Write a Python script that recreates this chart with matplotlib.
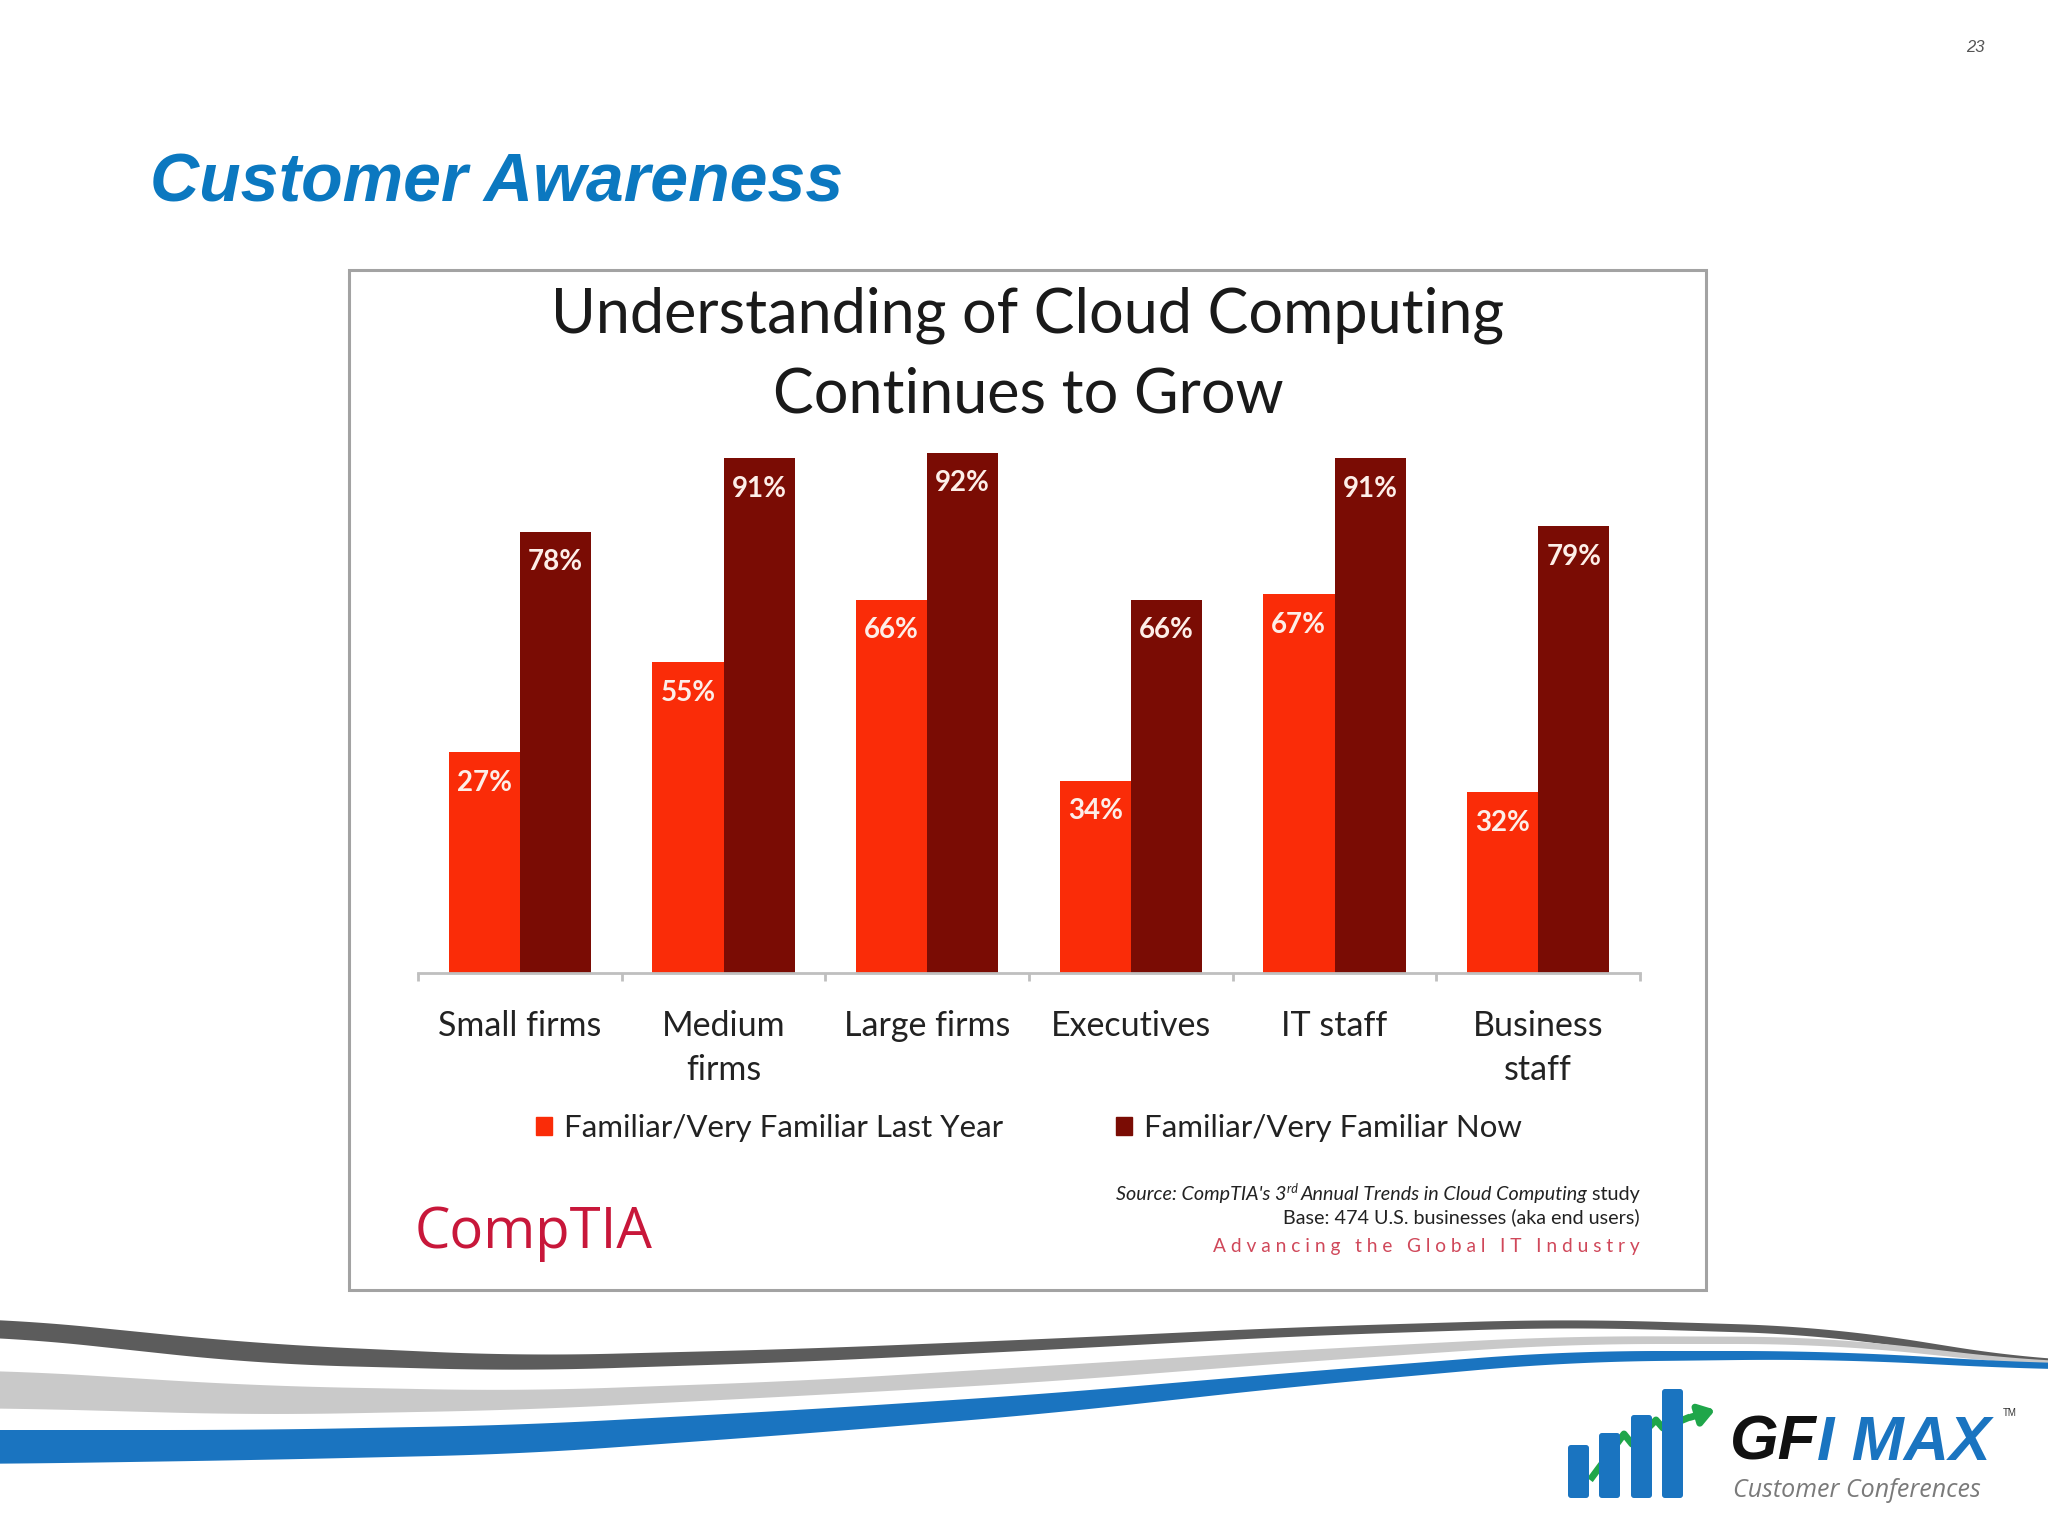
import numpy as np
import matplotlib
matplotlib.use('Agg')
import matplotlib.pyplot as plt
from matplotlib.patches import Rectangle, FancyBboxPatch

# === 데이터 ===
categories = ['Small firms', 'Medium\nfirms', 'Large firms', 'Executives', 'IT staff', 'Business\nstaff']
# bar heights as drawn in the picture (the "27%" bar is drawn at about 39)
last_year = [39, 55, 66, 34, 67, 32]
now = [78, 91, 92, 66, 91, 79]
# labels printed on the bars
last_year_labels = ['27%', '55%', '66%', '34%', '67%', '32%']
now_labels = ['78%', '91%', '92%', '66%', '91%', '79%']
series_names = ['Familiar/Very Familiar Last Year', 'Familiar/Very Familiar Now']
series_colors = ['#fa2c08', '#7a0c04']

W, H = 2048, 1536
FONT = 'Lato'

fig = plt.figure(figsize=(W / 100, H / 100), dpi=100)

# === background axes in pixel coords (slide decorations) ===
bg = fig.add_axes([0, 0, 1, 1])
bg.set_xlim(0, W)
bg.set_ylim(H, 0)
bg.axis('off')


def smooth(y, k=71):
    pad = np.pad(y, k // 2, mode='edge')
    return np.convolve(pad, np.ones(k) / k, mode='valid')


def band(cx, ctop, cbot, color):
    xs = np.linspace(-150, W + 150, 900)
    top = smooth(np.interp(xs, cx, ctop))
    bot = smooth(np.interp(xs, cx, cbot))
    bg.fill_between(xs, top, bot, color=color, lw=0)


# swooshes at the bottom
band([0, 260, 522, 800, 1045, 1300, 1567, 1829, 2048],
     [1318, 1344, 1356, 1349, 1339, 1327, 1319, 1327, 1362],
     [1336, 1364, 1371, 1362, 1350, 1336, 1327, 1335, 1370], '#5c5c5c')
band([0, 260, 522, 800, 1045, 1300, 1567, 1829, 2048],
     [1370, 1386, 1391, 1381, 1366, 1350, 1336, 1337, 1363],
     [1408, 1415, 1410, 1396, 1382, 1362, 1344, 1344, 1367], '#c9c9c9')
band([0, 260, 522, 800, 1045, 1300, 1567, 1829, 2048],
     [1430, 1430, 1425, 1410, 1394, 1372, 1351, 1351, 1364],
     [1464, 1460, 1454, 1434, 1414, 1386, 1362, 1359, 1370], '#1a74c0')

# slide title and page number
bg.text(150, 184, 'Customer Awareness', family='Liberation Sans', fontsize=49,
        fontweight='bold', style='italic', color='#0b78c0', va='center', ha='left')
bg.text(1975, 48, '23', family='Liberation Sans', fontsize=12, style='italic',
        color='#555555', ha='center', va='center')

# chart frame
bg.add_patch(Rectangle((349, 270), 1357, 1020, fill=False, ec='#a3a3a3', lw=2.2))

# chart title
bg.text(1028, 355, 'Understanding of Cloud Computing\nContinues to Grow', family=FONT,
        fontsize=44, color='#1a1a1a', ha='center', va='center', linespacing=1.5)

# CompTIA logo text
bg.text(415, 1233, 'CompTIA', family='Open Sans', fontsize=40.5, color='#c8173a',
        ha='left', va='center')

# === source lines (right aligned, mixed styles) ===
src_kw = dict(family=FONT, fontsize=14.2, color='#222222')
t_study = bg.text(1640, 1200, ' study', ha='right', va='baseline', **src_kw)
t_ital = bg.annotate('Annual Trends in Cloud Computing', xy=(0, 0), xycoords=t_study,
                     ha='right', va='bottom', style='italic', annotation_clip=False, **src_kw)
t_rd = bg.annotate('rd ', xy=(0, 0.45), xycoords=t_ital, ha='right', va='bottom',
                   family=FONT, fontsize=9, color='#222222', style='italic', annotation_clip=False)
bg.annotate("Source: CompTIA's 3", xy=(0, 0), xycoords=(t_rd, t_ital), ha='right',
            va='bottom', style='italic', annotation_clip=False, **src_kw)
bg.text(1640, 1223, 'Base: 474 U.S. businesses (aka end users)', ha='right', va='baseline',
        family=FONT, fontsize=14.2, color='#222222')
bg.text(1640, 1252, ' '.join('Advancing the Global IT Industry'), ha='right', va='baseline',
        family=FONT, fontsize=13.8, color='#d0485a')

# === GFI MAX logo ===
logo_blue = '#1a74c0'
bg.plot([1590, 1624, 1632, 1656, 1663, 1690], [1480, 1434, 1444, 1420, 1428, 1417],
        color='#1fa64a', lw=5, solid_capstyle='butt', zorder=2)
bg.annotate('', xy=(1718, 1409), xytext=(1688, 1418),
            arrowprops=dict(arrowstyle='-|>,head_length=0.9,head_width=0.6',
                            color='#1fa64a', lw=5), zorder=2)
for x0, top in zip([1568, 1599, 1631, 1662], [1445, 1433, 1415, 1389]):
    bg.add_patch(FancyBboxPatch((x0 + 3, top + 3), 15, 1498 - top - 6,
                                boxstyle='round,pad=3', fc=logo_blue, ec='none', zorder=3))
t_gf = bg.text(1730, 1460, 'GF', family='Liberation Sans', fontsize=45, fontweight='bold',
               style='italic', color='#111111', ha='left', va='baseline')
bg.annotate('I MAX', xy=(1, 0), xycoords=t_gf, ha='left', va='bottom', family='Liberation Sans',
            fontsize=45, fontweight='bold', style='italic', color=logo_blue, annotation_clip=False)
bg.text(2010, 1413, 'TM', family='Liberation Sans', fontsize=7, color='#333333',
        ha='center', va='center')
bg.text(1733, 1497, 'Customer Conferences', family='Open Sans', fontsize=18,
        style='italic', color='#7a7a7a', ha='left', va='baseline')

# === bar chart ===
left, right, base, top100 = 418, 1640, 973, 407.5
ax = fig.add_axes([left / W, 1 - base / H, (right - left) / W, (base - top100) / H])
ax.patch.set_alpha(0)

x = np.arange(len(categories))
bw = 0.35
for vals, labels, off, col in zip([last_year, now], [last_year_labels, now_labels],
                                  [-bw / 2, bw / 2], series_colors):
    bars = ax.bar(x + off, vals, width=bw, color=col, zorder=2)
    for b, v, lab in zip(bars, vals, labels):
        ax.annotate(lab, xy=(b.get_x() + b.get_width() / 2, v), xytext=(0, -22),
                    textcoords='offset points', ha='center', va='center', family=FONT,
                    fontsize=20, fontweight='bold', color='#fdeee8')

ax.set_xlim(-0.5, len(categories) - 0.5)
ax.set_ylim(0, 100)
for s in ['top', 'right', 'left']:
    ax.spines[s].set_visible(False)
ax.spines['bottom'].set_color('#bfbfbf')
ax.spines['bottom'].set_linewidth(2)
ax.set_yticks([])
ax.set_xticks(x)
ax.set_xticklabels(categories, family=FONT, fontsize=24.5, color='#222222', linespacing=1.45)
ax.set_xticks(np.arange(-0.5, len(categories), 1), minor=True)
ax.tick_params(axis='x', which='major', length=0, pad=27)
ax.tick_params(axis='x', which='minor', length=6, width=2, color='#bfbfbf')

handles = [Rectangle((0, 0), 1, 1, color=c) for c in series_colors]
ax.legend(handles, series_names, loc='center', bbox_to_anchor=(1029 / W, 1 - 1128 / H),
          bbox_transform=fig.transFigure, ncol=2, frameon=False,
          prop={'family': FONT, 'size': 22.5}, handlelength=0.5, handleheight=0.5,
          handletextpad=0.4, columnspacing=3.6, labelcolor='#222222')

fig.savefig('out.png', dpi=100)
